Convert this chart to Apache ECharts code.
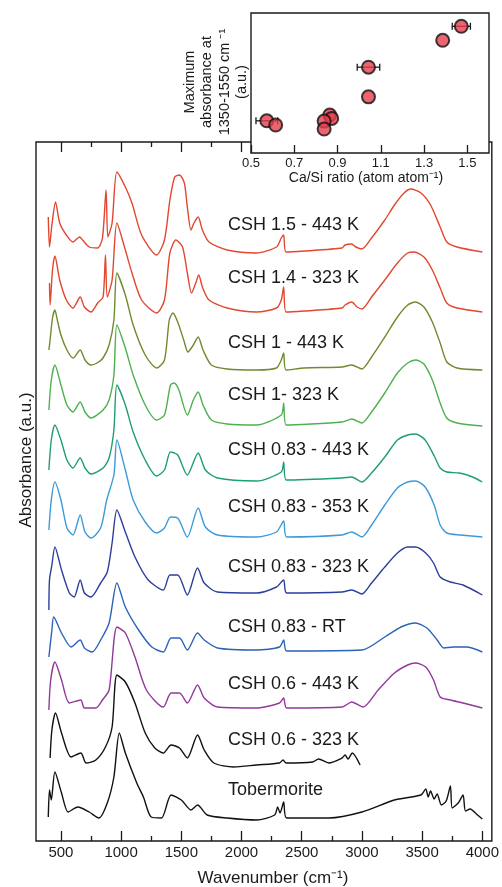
<!DOCTYPE html>
<html>
<head>
<meta charset="utf-8">
<script src="https://cdn.jsdelivr.net/npm/echarts@6/dist/echarts.min.js"></script>
<style>
  html, body { margin: 0; padding: 0; background: #fff; }
  #chart { width: 502px; height: 887px; }
</style>
</head>
<body>
<div id="chart"></div>
<script>
// spectra: [wavenumber (cm-1), stacked absorbance (a.u.)]
var csh15_443 = [[395,6.24],[405,5.94],[425,6.16],[455,6.39],[490,6.18],[545,6.06],[600,5.99],[655,6.04],[680,6.01],[735,5.94],[805,5.93],[845,6.03],[875,6.51],[890,6.04],[925,6.18],[965,6.69],[1035,6.54],[1090,6.38],[1170,6.06],[1295,5.86],[1360,6.01],[1405,6.41],[1445,6.64],[1485,6.66],[1525,6.58],[1550,6.34],[1580,6.11],[1605,6.18],[1640,6.24],[1675,6.11],[1730,5.99],[1880,5.91],[2125,5.88],[2290,5.94],[2330,6.03],[2350,6.06],[2370,5.89],[2520,5.90],[2835,5.93],[2860,5.96],[2915,5.97],[2950,5.94],[3000,5.92],[3080,6.03],[3190,6.21],[3270,6.36],[3350,6.48],[3405,6.52],[3490,6.48],[3570,6.36],[3650,6.14],[3705,5.99],[3790,5.94],[4000,5.89]];
var csh14_323 = [[405,5.58],[410,5.36],[430,5.71],[450,5.85],[490,5.61],[545,5.41],[600,5.33],[660,5.44],[695,5.34],[750,5.29],[805,5.38],[850,5.44],[870,5.86],[885,5.44],[925,5.61],[965,6.18],[1035,5.91],[1090,5.68],[1170,5.41],[1295,5.28],[1360,5.41],[1405,5.88],[1455,6.01],[1510,5.94],[1550,5.68],[1585,5.48],[1620,5.58],[1645,5.66],[1675,5.54],[1730,5.41],[1880,5.33],[2125,5.29],[2290,5.33],[2330,5.41],[2350,5.54],[2370,5.29],[2520,5.30],[2835,5.33],[2860,5.36],[2915,5.39],[2960,5.34],[3000,5.32],[3080,5.44],[3190,5.61],[3295,5.78],[3380,5.88],[3435,5.89],[3515,5.84],[3585,5.71],[3650,5.53],[3705,5.38],[3790,5.33],[4000,5.29]];
var csh1_443 = [[400,4.91],[410,5.01],[430,5.23],[450,5.31],[470,5.21],[500,5.06],[550,4.91],[600,4.83],[660,4.91],[700,4.81],[750,4.76],[800,4.78],[850,4.83],[900,4.96],[940,5.21],[965,5.68],[1035,5.46],[1100,5.16],[1200,4.86],[1295,4.73],[1360,4.81],[1400,5.21],[1430,5.28],[1470,5.19],[1520,5.01],[1555,4.89],[1600,4.96],[1640,5.04],[1680,4.91],[1750,4.76],[1880,4.72],[2125,4.71],[2290,4.73],[2330,4.81],[2350,4.88],[2370,4.71],[2520,4.73],[2835,4.74],[2915,4.76],[3000,4.72],[3080,4.84],[3190,5.04],[3295,5.24],[3380,5.36],[3445,5.39],[3515,5.34],[3585,5.19],[3650,4.98],[3705,4.79],[3790,4.73],[4000,4.71]];
var csh1_323 = [[400,4.31],[420,4.61],[450,4.76],[500,4.56],[550,4.36],[600,4.29],[660,4.39],[700,4.29],[750,4.23],[850,4.31],[900,4.41],[940,4.66],[965,5.16],[1035,4.93],[1100,4.66],[1200,4.36],[1295,4.21],[1360,4.26],[1410,4.56],[1440,4.58],[1480,4.51],[1550,4.26],[1600,4.41],[1640,4.49],[1680,4.36],[1750,4.21],[1880,4.17],[2125,4.16],[2330,4.26],[2350,4.38],[2370,4.16],[2835,4.19],[2915,4.22],[3000,4.18],[3080,4.29],[3190,4.48],[3295,4.68],[3380,4.78],[3445,4.81],[3515,4.77],[3585,4.61],[3650,4.38],[3705,4.23],[3790,4.18],[4000,4.15]];
var csh083_443 = [[400,3.71],[420,4.01],[450,4.16],[500,4.01],[550,3.81],[600,3.73],[660,3.83],[700,3.73],[750,3.67],[850,3.73],[900,3.83],[940,4.11],[965,4.56],[1035,4.36],[1100,4.09],[1200,3.81],[1295,3.65],[1360,3.71],[1410,3.89],[1470,3.86],[1550,3.66],[1640,3.88],[1700,3.71],[1800,3.63],[2125,3.60],[2330,3.69],[2350,3.79],[2370,3.61],[2835,3.63],[2915,3.64],[3000,3.59],[3080,3.68],[3190,3.84],[3295,4.01],[3380,4.06],[3445,4.07],[3525,4.01],[3605,3.84],[3650,3.73],[3705,3.69],[3810,3.68],[3920,3.64],[4000,3.59]];
var csh083_353 = [[400,3.11],[420,3.41],[450,3.59],[500,3.41],[550,3.13],[600,3.06],[660,3.26],[700,3.09],[750,3.03],[830,3.13],[880,3.41],[940,3.66],[965,4.01],[1035,3.71],[1100,3.41],[1200,3.19],[1295,3.08],[1360,3.13],[1410,3.24],[1470,3.23],[1550,3.04],[1640,3.33],[1700,3.14],[1800,3.06],[2125,3.04],[2290,3.09],[2350,3.20],[2375,3.04],[2835,3.06],[2915,3.09],[3000,3.04],[3080,3.16],[3190,3.36],[3295,3.53],[3380,3.59],[3445,3.60],[3525,3.54],[3600,3.36],[3650,3.16],[3705,3.08],[3815,3.06],[4000,3.04]];
var csh083_323 = [[400,2.31],[405,2.61],[425,2.76],[450,2.94],[505,2.71],[570,2.48],[610,2.44],[660,2.61],[695,2.48],[750,2.44],[830,2.58],[885,2.69],[925,2.98],[965,3.31],[1035,3.09],[1115,2.84],[1225,2.61],[1350,2.51],[1405,2.66],[1470,2.66],[1550,2.46],[1635,2.73],[1690,2.58],[1800,2.49],[2125,2.48],[2290,2.54],[2350,2.61],[2375,2.48],[2835,2.49],[2915,2.51],[3000,2.47],[3080,2.58],[3190,2.74],[3295,2.88],[3380,2.94],[3445,2.94],[3530,2.88],[3595,2.78],[3650,2.64],[3735,2.59],[3840,2.56],[4000,2.46]];
var csh083_rt = [[400,1.84],[425,2.11],[440,2.24],[505,2.08],[585,1.94],[660,2.01],[695,1.93],[760,1.89],[830,2.01],[900,2.18],[965,2.58],[1035,2.34],[1145,2.11],[1255,1.94],[1350,1.89],[1415,2.03],[1485,2.03],[1550,1.91],[1635,2.08],[1690,2.01],[1800,1.93],[2125,1.91],[2315,1.94],[2350,2.01],[2375,1.90],[3000,1.91],[3190,2.04],[3325,2.14],[3445,2.18],[3540,2.13],[3625,2.01],[3680,1.93],[3760,1.94],[3870,1.94],[4000,1.89]];
var csh06_443 = [[400,1.31],[415,1.61],[450,1.79],[505,1.61],[570,1.38],[665,1.41],[695,1.33],[790,1.33],[845,1.41],[900,1.51],[965,2.14],[1035,2.08],[1115,1.84],[1210,1.51],[1350,1.34],[1415,1.48],[1485,1.48],[1550,1.38],[1635,1.56],[1690,1.43],[1800,1.34],[2125,1.33],[2315,1.38],[2350,1.43],[2375,1.33],[2835,1.34],[2915,1.39],[3010,1.34],[3135,1.51],[3270,1.68],[3380,1.76],[3445,1.78],[3530,1.74],[3595,1.61],[3650,1.44],[3735,1.41],[3840,1.38],[4000,1.33]];
var csh06_323 = [[410,0.83],[425,1.11],[455,1.28],[505,1.08],[585,0.84],[665,0.88],[710,0.78],[790,0.81],[870,0.94],[925,1.14],[965,1.66],[1035,1.59],[1115,1.38],[1200,1.08],[1280,0.93],[1350,0.88],[1415,0.96],[1485,0.93],[1550,0.83],[1635,1.06],[1690,0.91],[1770,0.78],[1935,0.74],[2125,0.76],[2315,0.78],[2345,0.81],[2370,0.78],[2590,0.79],[2640,0.82],[2725,0.78],[2835,0.83],[2860,0.86],[2885,0.82],[2920,0.88],[2985,0.76]];
var tobermorite = [[395,0.24],[405,0.51],[420,0.41],[450,0.69],[505,0.48],[560,0.29],[640,0.34],[735,0.29],[815,0.23],[885,0.38],[940,0.64],[985,1.08],[1035,0.88],[1130,0.58],[1185,0.44],[1250,0.24],[1335,0.23],[1415,0.46],[1500,0.41],[1580,0.31],[1635,0.36],[1715,0.26],[1880,0.23],[2125,0.21],[2275,0.26],[2300,0.34],[2320,0.28],[2350,0.39],[2375,0.23],[2725,0.23],[3000,0.29],[3270,0.41],[3490,0.46],[3530,0.52],[3550,0.44],[3570,0.50],[3600,0.42],[3625,0.47],[3660,0.36],[3700,0.40],[3735,0.55],[3750,0.33],[3800,0.38],[3840,0.46],[3860,0.30],[3900,0.32],[3950,0.27],[4000,0.22]];

var spectra = [csh15_443, csh14_323, csh1_443, csh1_323, csh083_443, csh083_353, csh083_323, csh083_rt, csh06_443, csh06_323, tobermorite];
var names = ["CSH 1.5 - 443 K", "CSH 1.4 - 323 K", "CSH 1 - 443 K", "CSH 1- 323 K", "CSH 0.83 - 443 K", "CSH 0.83 - 353 K", "CSH 0.83 - 323 K", "CSH 0.83 - RT", "CSH 0.6 - 443 K", "CSH 0.6 - 323 K", "Tobermorite"];
var colors = ["#e2472f", "#e2472f", "#6f8a2f", "#4fb04f", "#1f9e6e", "#3d9ad8", "#2d3e98", "#2a63b8", "#91389b", "#111111", "#111111"];
var labelY = [225, 278, 343, 395, 450, 507, 567, 627, 684, 740, 790];

var wnMajor = [500, 1000, 1500, 2000, 2500, 3000, 3500, 4000];
var wnMinor = [750, 1250, 1750, 2250, 2750, 3250, 3750];

// inset: Ca/Si ratio vs max absorbance 1350-1550 cm-1
var caSi = [0.573, 0.614, 0.864, 0.873, 0.838, 0.838, 1.043, 1.043, 1.386, 1.472];
var maxAbs = [0.230, 0.200, 0.271, 0.247, 0.228, 0.171, 0.401, 0.613, 0.805, 0.905];
var caSiErr = [0.05, 0, 0, 0, 0, 0, 0, 0.052, 0, 0.042];
var caSiTicks = [0.5, 0.7, 0.9, 1.1, 1.3, 1.5];

var font = '"Liberation Sans", Arial, Helvetica, sans-serif';
var ink = "#1a1a1a";

var chart = echarts.init(document.getElementById("chart"));

var series = spectra.map(function (d, i) {
  return {
    name: names[i],
    type: "line",
    xAxisIndex: 0,
    yAxisIndex: 0,
    data: d,
    showSymbol: false,
    smooth: 0.25,
    lineStyle: { color: colors[i], width: 1.4 },
    itemStyle: { color: colors[i] },
    z: 2,
  };
});

var errData = [];
caSi.forEach(function (x, i) {
  if (caSiErr[i] > 0) errData.push([x, maxAbs[i], caSiErr[i]]);
});

series.push({
  type: "custom",
  xAxisIndex: 4,
  yAxisIndex: 1,
  z: 10,
  data: errData,
  renderItem: function (params, api) {
    var a = api.coord([api.value(0) - api.value(2), api.value(1)]);
    var b = api.coord([api.value(0) + api.value(2), api.value(1)]);
    var st = { stroke: ink, lineWidth: 1.3 };
    return {
      type: "group",
      children: [
        { type: "line", shape: { x1: a[0], y1: a[1], x2: b[0], y2: b[1] }, style: st },
        { type: "line", shape: { x1: a[0], y1: a[1] - 3.5, x2: a[0], y2: a[1] + 3.5 }, style: st },
        { type: "line", shape: { x1: b[0], y1: b[1] - 3.5, x2: b[0], y2: b[1] + 3.5 }, style: st },
      ],
    };
  },
});

series.push({
  type: "scatter",
  xAxisIndex: 4,
  yAxisIndex: 1,
  z: 11,
  symbolSize: 13,
  data: caSi.map(function (x, i) { return [x, maxAbs[i]]; }),
  itemStyle: { color: "#e63e4c", borderColor: "#111", borderWidth: 2 },
});

function txt(text, x, y, size, rot, lh) {
  return {
    type: "text",
    x: x,
    y: y,
    rotation: rot || 0,
    z: 20,
    style: {
      text: text,
      font: size + "px " + font,
      fill: ink,
      align: "center",
      verticalAlign: "middle",
      textAlign: "center",
      textVerticalAlign: "middle",
      lineHeight: lh || size,
    },
  };
}

var graphics = names.map(function (n, i) {
  return {
    type: "text",
    x: 228,
    y: labelY[i],
    z: 20,
    style: {
      text: n,
      font: "18px " + font,
      fill: ink,
      align: "left",
      verticalAlign: "middle",
      textAlign: "left",
      textVerticalAlign: "middle",
    },
  };
});
graphics.push(txt("Wavenumber (cm\u207B\u00B9)", 273, 878, 17));
graphics.push(txt("Absorbance (a.u.)", 26, 460, 17, Math.PI / 2));
graphics.push(txt("Ca/Si ratio (atom atom\u207B\u00B9)", 366, 178, 14));
graphics.push(txt("Maximum\nabsorbance at\n1350-1550 cm \u207B\u00B9\n(a.u.)", 216, 82, 14.5, Math.PI / 2, 17.3));

function tickAxis(grid, pos, vals, len, labels) {
  return {
    gridIndex: grid,
    type: "value",
    position: pos,
    min: grid === 0 ? 293 : 0.5,
    max: grid === 0 ? 4079 : 1.6,
    z: grid === 0 ? 0 : 6,
    axisLine: { show: false, onZero: false },
    splitLine: { show: false },
    axisTick: { show: true, inside: true, length: len, customValues: vals, lineStyle: { color: ink, width: 1.3 } },
    axisLabel: labels
      ? {
          show: true,
          customValues: vals,
          fontSize: grid === 0 ? 15 : 13,
          fontFamily: font,
          color: ink,
          margin: 4,
          formatter: grid === 0
            ? function (v) { return String(v); }
            : function (v) { return v.toFixed(1); },
        }
      : { show: false },
  };
}

var option = {
  animation: false,
  backgroundColor: "#fff",
  grid: [
    { left: 36, top: 142, right: 3, bottom: 46, show: true, borderColor: ink, borderWidth: 1.4, z: 0 },
    { left: 251, top: 13, right: 13, bottom: 734, show: true, backgroundColor: "#fff", borderColor: ink, borderWidth: 1.4, z: 5 },
  ],
  xAxis: [
    tickAxis(0, "bottom", wnMajor, 10, true),
    tickAxis(0, "bottom", wnMinor, 5, false),
    tickAxis(0, "top", wnMajor, 10, false),
    tickAxis(0, "top", wnMinor, 5, false),
    tickAxis(1, "bottom", caSiTicks, 8, true),
  ],
  yAxis: [
    { gridIndex: 0, type: "value", min: 0, max: 6.99, show: false },
    { gridIndex: 1, type: "value", min: 0, max: 1, show: false },
  ],
  graphic: graphics,
  series: series,
};

chart.setOption(option);
</script>
</body>
</html>
